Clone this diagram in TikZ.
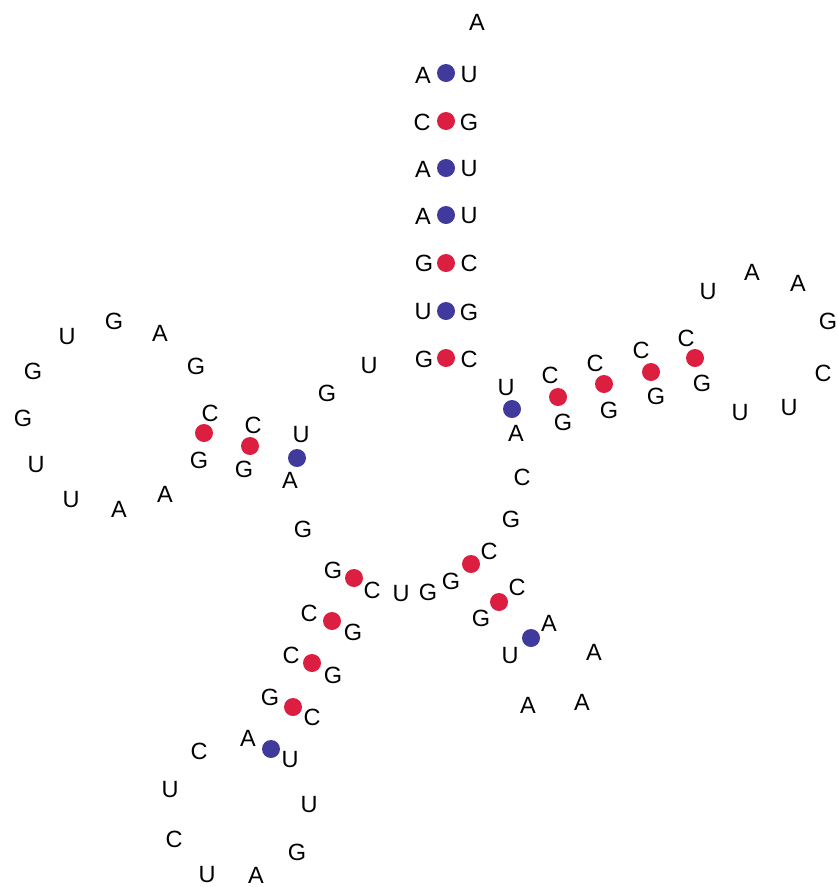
\documentclass[tikz,border=0pt]{standalone}
\usepackage{fontspec}
\setmainfont{Liberation Sans}
\definecolor{pairblue}{HTML}{403A9C}
\definecolor{pairred}{HTML}{DC1E41}
\tikzset{
  base/.style={inner sep=0pt,font=\fontsize{23.5}{23.5}\selectfont,anchor=center},
  bluedot/.style={circle,fill=pairblue,draw=none,minimum size=18pt,inner sep=0pt},
  reddot/.style={circle,fill=pairred,draw=none,minimum size=18pt,inner sep=0pt}
}
\begin{document}
\begin{tikzpicture}[x=1pt,y=-1pt]
\useasboundingbox (0,0) rectangle (838,887);
\foreach \x/\y [count=\i] in {446/73,446/168,446/215,446/311,512/409,297/458,531/638,271/749}
  \node[bluedot] (b\i) at (\x,\y) {};
\foreach \x/\y [count=\i] in {446/121,446/263,446/358,558/397,604/384,651/372,695/358,204/433,250/446,471/564,499/602,354/578,332/621,312/663,293/707}
  \node[reddot] (r\i) at (\x,\y) {};
\foreach \t/\x/\y [count=\i] in {
A/477/22,A/423/75,U/469/75,C/422/122,G/469/122,A/423/169,U/469/169,A/423/216,U/469/216,G/424/263,C/469/263,U/423/312,G/469/312,G/424/359,C/469/359,
U/369/366,G/327/393,U/301/435,C/253/425,C/210/413,G/196/366,A/160/333,G/114/321,U/67/337,G/33/371,G/23/418,U/36/465,U/71/500,A/119/509,A/165/494,G/199/460,G/244/469,A/290/480,G/303/529,G/333/570,C/372/590,U/401/594,G/428/592,G/451/581,C/489/551,G/511/519,C/522/477,A/516/433,U/506/388,C/550/375,G/563/422,C/595/363,G/609/410,C/641/350,G/656/396,C/686/338,G/702/383,U/708/292,A/752/272,A/798/283,G/828/321,C/823/373,U/789/408,U/740/413,
C/517/587,G/481/618,A/549/623,U/510/656,A/594/652,A/582/702,A/528/705,
C/309/613,G/353/632,C/291/655,G/333/675,G/270/697,C/312/717,A/248/738,U/290/760,U/309/805,G/297/852,A/256/875,U/207/875,C/174/839,U/170/790,C/199/751}
  \node[base] (n\i) at (\x,\y) {\t};
\end{tikzpicture}
\end{document}
